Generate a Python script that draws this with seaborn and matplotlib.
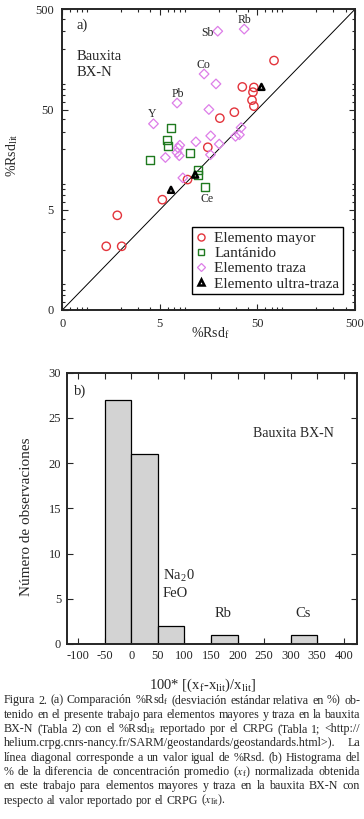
import numpy as np
import pandas as pd
import matplotlib
matplotlib.use("Agg")
import matplotlib.pyplot as plt
import seaborn as sns
from matplotlib.ticker import FixedLocator, FixedFormatter, LogLocator, NullFormatter, MultipleLocator
from matplotlib.lines import Line2D

# panel a: %Rsd_f (x) vs %Rsd_lit (y), grouped by element type
mayor_f = [74, 35, 46, 45, 44, 46, 29, 20.6, 15.5, 9.6, 5.3, 1.83, 1.41, 2.03]
mayor_lit = [154, 84, 83, 74.5, 62, 54, 47, 41, 21, 10, 6.3, 4.4, 2.16, 2.16]
lant_f = [6.5, 5.9, 6.05, 10.2, 3.96, 12.3, 12.2, 14.5]
lant_lit = [32.4, 24.8, 21.7, 18.6, 15.7, 12.4, 11.1, 8.5]
traza_f = [19.6, 36.6, 14.2, 18.8, 7.5, 4.3, 15.9, 34, 32.7, 29.8, 16.6, 11.7,
           8.0, 7.7, 20.3, 7.5, 7.9, 5.7, 16.5, 8.6]
traza_lit = [302, 317, 113, 90, 58, 36, 50, 33, 28, 27, 27.3, 23.8,
             22, 20.6, 22.6, 18.6, 17.3, 16.6, 17.7, 10.4]
ultra_f = [55, 11.5, 6.5]
ultra_lit = [84, 11.2, 7.9]
diagonal = [0.5, 500]

etiquetas = ["Sb", "Rb", "Co", "Pb", "Y", "Ce"]
etiq_x = [15.2, 37.2, 14.1, 7.6, 4.15, 15.3]
etiq_y = [293, 389, 138, 72, 44.7, 6.4]

# panel b: histogram of normalized differences
bin_left = [-50, 0, 50, 150, 300]
conteo = [27, 21, 2, 1, 1]
ancho = 50

caption = [
    r"Figura 2. (a) Comparación %Rsd$_\mathregular{f}$ (desviación estándar relativa en %) ob-",
    "tenido en el presente trabajo para elementos mayores y traza en la bauxita",
    r"BX-N (Tabla 2) con el %Rsd$_\mathregular{lit}$ reportado por el CRPG (Tabla 1; <http://",
    "helium.crpg.cnrs-nancy.fr/SARM/geostandards/geostandards.html>). La",
    "línea diagonal corresponde a un valor igual de %Rsd. (b) Histograma del",
    r"% de la diferencia de concentración promedio ($x_\mathregular{f}$) normalizada obtenida",
    "en este trabajo para elementos mayores y traza en la bauxita BX-N con",
    r"respecto al valor reportado por el CRPG ($x_\mathregular{lit}$).",
]

sns.set_theme(style="ticks")
plt.rcParams["font.family"] = ["Liberation Serif", "DejaVu Serif"]
plt.rcParams["mathtext.fontset"] = "stix"
plt.rcParams["axes.unicode_minus"] = False

grupos = [
    ("Elemento mayor", mayor_f, mayor_lit, "o", "#e3343c", 36, 1.0),
    ("Lantánido", lant_f, lant_lit, "s", "#1f7a1f", 34, 1.0),
    ("Elemento traza", traza_f, traza_lit, "D", "#dd7de8", 24, 0.9),
    ("Elemento ultra-traza", ultra_f, ultra_lit, "^", "black", 18, 1.8),
]
df = pd.concat([pd.DataFrame({"f": f, "lit": l, "tipo": n}) for n, f, l, *_ in grupos])

fig = plt.figure(figsize=(3.64, 8.19), dpi=100)
ax = fig.add_axes([0.1712, 0.6215, 0.804, 0.3672])

sns.lineplot(x=diagonal, y=diagonal, ax=ax, color="black", linewidth=0.7)
handles = []
for nombre, _, _, m, col, s, lw in grupos:
    sub = df[df["tipo"] == nombre]
    sns.scatterplot(data=sub, x="f", y="lit", ax=ax, marker=m, s=s,
                    facecolor="none", edgecolor=col, linewidth=lw, zorder=3)
    handles.append(Line2D([], [], linestyle="none", marker=m, markersize=np.sqrt(s) * 0.85,
                          markerfacecolor="none", markeredgecolor=col, markeredgewidth=lw,
                          label=nombre))

ax.set_xscale("log")
ax.set_yscale("log")
ax.set_xlim(0.5, 500)
ax.set_ylim(0.5, 500)
for axis in (ax.xaxis, ax.yaxis):
    axis.set_major_locator(FixedLocator([0.5, 5, 50, 500]))
    axis.set_major_formatter(FixedFormatter(["0", "5", "50", "500"]))
    axis.set_minor_locator(LogLocator(subs=np.arange(2, 10)))
    axis.set_minor_formatter(NullFormatter())
ax.tick_params(which="both", direction="in", top=True, right=True, labelsize=9, width=0.8)
ax.tick_params(which="major", length=4, pad=6)
ax.tick_params(which="minor", length=2.2)
for sp in ax.spines.values():
    sp.set_linewidth(1.4)
ax.set_xlabel(r"%Rsd$_\mathregular{f}$", fontsize=10)
ax.set_ylabel(r"%Rsd$_\mathregular{lit}$", fontsize=10)
ax.xaxis.set_label_coords(0.505, -0.052)
ax.yaxis.set_label_coords(-0.145, 0.515)

for t, x, y in zip(etiquetas, etiq_x, etiq_y):
    ax.text(x, y, t, fontsize=8.5, ha="center", va="center")
ax.text(0.047, 0.948, "a)", transform=ax.transAxes, fontsize=10.5, va="center")
ax.text(0.05, 0.816, "Bauxita\nBX-N", transform=ax.transAxes, fontsize=10.5,
        va="center", linespacing=1.3)

ax.legend(handles=handles, loc="lower right", bbox_to_anchor=(0.96, 0.052),
          borderaxespad=0, fontsize=11, frameon=True, fancybox=False,
          edgecolor="black", framealpha=1, handlelength=0.7, handletextpad=0.5,
          labelspacing=0.1, borderpad=0.25)
ax.get_legend().get_frame().set_linewidth(1.0)

# panel b
bx = fig.add_axes([0.1832, 0.2137, 0.7975, 0.3313])
hist_df = pd.DataFrame({"centro": [b + ancho / 2 for b in bin_left], "n": conteo})
sns.histplot(data=hist_df, x="centro", weights="n", binwidth=ancho, binrange=(-50, 350), ax=bx,
             color="#d3d3d3", edgecolor="black", linewidth=0.9, alpha=1)
bx.set_xlim(-122, 425)
bx.set_ylim(0, 30)
bx.set_xticks(np.arange(-100, 401, 50))
bx.yaxis.set_major_locator(MultipleLocator(5))
bx.tick_params(direction="in", top=True, right=True, labelsize=9, length=4, width=0.8, pad=4)
for sp in bx.spines.values():
    sp.set_linewidth(1.4)
bx.set_xlabel(r"100* [(x$_\mathregular{f}$-x$_\mathregular{lit}$)/x$_\mathregular{lit}$]", fontsize=10.5)
bx.set_ylabel("Número de observaciones", fontsize=11)
bx.xaxis.set_label_coords(0.468, -0.12)
bx.yaxis.set_label_coords(-0.116, 0.47)

bx.text(0.026, 0.933, "b)", transform=bx.transAxes, fontsize=10.5, va="center")
bx.text(229, 23.3, "Bauxita BX-N", fontsize=10, va="center")
bx.text(59, 7.5, r"Na$_\mathregular{2}$0", fontsize=10.5, va="center")
bx.text(59, 5.6, "FeO", fontsize=10.5, va="center")
bx.text(172, 3.4, "Rb", fontsize=10.5, ha="center", va="center")
bx.text(324, 3.4, "Cs", fontsize=10.5, ha="center", va="center")

# caption, justified word by word on a common baseline
renderer = fig.canvas.get_renderer()
x0, x1 = 4 / 364, 360 / 364
W = fig.bbox.width


def ancho_txt(s, size):
    t = fig.text(0, 0, s, fontsize=size)
    w = t.get_window_extent(renderer).width / W
    t.remove()
    return w


def natural(linea, size, frac_esp=1.0):
    pal = linea.split(" ")
    esp = ancho_txt("a a", size) - ancho_txt("aa", size)
    return sum(ancho_txt(w, size) for w in pal) + frac_esp * esp * (len(pal) - 1)


ref = 10
fs_base = ref * (x1 - x0) / natural(caption[0], ref)
for i, linea in enumerate(caption):
    y = 1 - (703.5 + i * 14.3) / 819
    fs = fs_base
    if i < len(caption) - 1:
        n_min = natural(linea, fs, 0.6)
        if n_min > x1 - x0:
            fs = fs * (x1 - x0) / n_min
    palabras = linea.split(" ")
    arts = [fig.text(0, y, w, fontsize=fs, va="baseline") for w in palabras]
    anchos = [a.get_window_extent(renderer).width / W for a in arts]
    if i < len(caption) - 1:
        gap = (x1 - x0 - sum(anchos)) / (len(palabras) - 1)
    else:
        gap = ancho_txt("a a", fs) - ancho_txt("aa", fs)
    xp = x0
    for a, w in zip(arts, anchos):
        a.set_x(xp)
        xp += w + gap

fig.savefig("out.png", dpi=100)
plt.close(fig)
